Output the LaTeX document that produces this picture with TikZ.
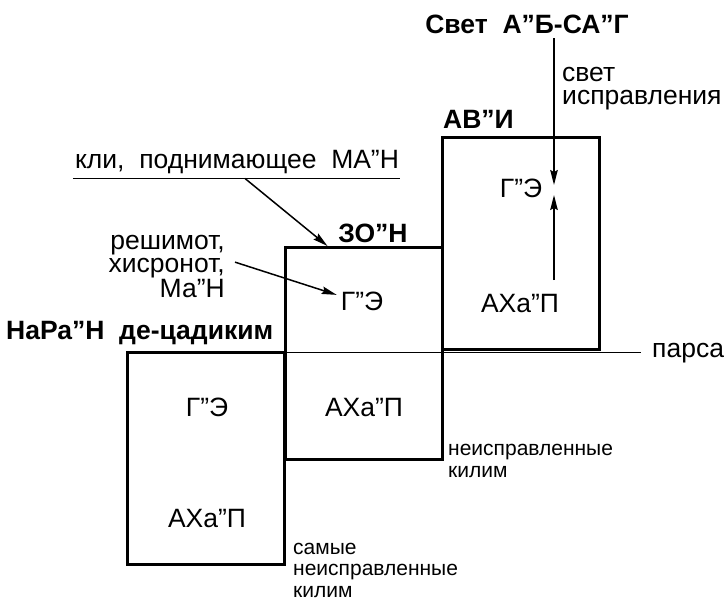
\documentclass[tikz,border=0pt]{standalone}
\usepackage{fontspec}
\setmainfont{Liberation Sans}
\usetikzlibrary{arrows.meta,positioning}

\tikzset{
  box/.style={draw,line width=3pt,minimum width=157pt,minimum height=212pt,inner sep=0pt},
  bigtxt/.style={font=\fontsize{26.5}{23}\selectfont,inner sep=0pt},
  boldtxt/.style={font=\fontsize{26.5}{23}\selectfont\bfseries,inner sep=0pt},
  smalltxt/.style={font=\fontsize{21}{21.5}\selectfont,inner sep=0pt},
  tonk/.style={line width=1.5pt},
  strelka/.style={line width=1.5pt,-{Stealth[length=15pt,width=7.5pt,inset=2pt]}}
}

\begin{document}
\begin{tikzpicture}[x=1pt,y=-1pt]
\useasboundingbox (0,0) rectangle (724,600);

% three levels
\node[box] (nar) at (206,458) {};
\node[box] (zon) at (363.5,353.5) {};
\node[box] (avi) at (520.5,243) {};

% box titles
\node[boldtxt,anchor=base] (svet) at (527,33) {Свет\ \ А”Б-СА”Г};
\node[boldtxt,anchor=base west] (avilbl) at (443,128) {АВ”И};
\node[boldtxt,anchor=base] (zonlbl) at (373,242) {ЗО”Н};
\node[boldtxt,anchor=base west] (narlbl) at (6,339) {НаРа”Н\ \ де-цадиким};

% inside the boxes
\node[bigtxt,anchor=base] (ge1) at (207,416) {Г”Э};
\node[bigtxt,anchor=base] (ahp1) at (207,527) {АХа”П};
\node[bigtxt,anchor=base] (ge2) at (362,310) {Г”Э};
\node[bigtxt,anchor=base] (ahp2) at (364,416) {АХа”П};
\node[bigtxt,anchor=base] (ge3) at (521,197) {Г”Э};
\node[bigtxt,anchor=base] (ahp3) at (520,312) {АХа”П};

% side texts
\node[bigtxt,align=left,anchor=base west] (ispr) at (562,104) {свет\\исправления};
\node[bigtxt,anchor=base] (kli) at (237,168) {кли,\ \ поднимающее\ \ МА”Н};
\node[bigtxt,align=right,anchor=base east] (resh) at (225,297) {решимот,\\хисронот,\\Ма”Н};
\node[bigtxt,anchor=base west] (parsa) at (652,357) {парса};
\node[smalltxt,align=left,anchor=base west] (neispr) at (448,477) {неисправленные\\килим};
\node[smalltxt,align=left,anchor=base west] (samye) at (293,597) {самые\\неисправленные\\килим};

% lines
\draw[tonk] ([xshift=-2pt,yshift=-5pt]kli.south west) -- ([xshift=1pt,yshift=-5pt]kli.south east);
\draw[tonk] (zon.west |- parsa.west) -- ([xshift=-11pt]parsa.west);

% arrows
\coordinate (tochka) at (554,190);
\coordinate (aniz) at (554,280);
\draw[strelka] (svet.south -| tochka) ++(0,5) -- ([yshift=5pt]tochka);
\draw[strelka] (aniz) -- ([yshift=-5pt]tochka);
\draw[strelka] ([xshift=8pt,yshift=-5pt]kli.south) -- ([xshift=-36pt]zon.north);
\draw[strelka] ([xshift=10pt,yshift=4pt]resh.east) -- ([xshift=-4pt,yshift=6pt]ge2.west);
\end{tikzpicture}
\end{document}
